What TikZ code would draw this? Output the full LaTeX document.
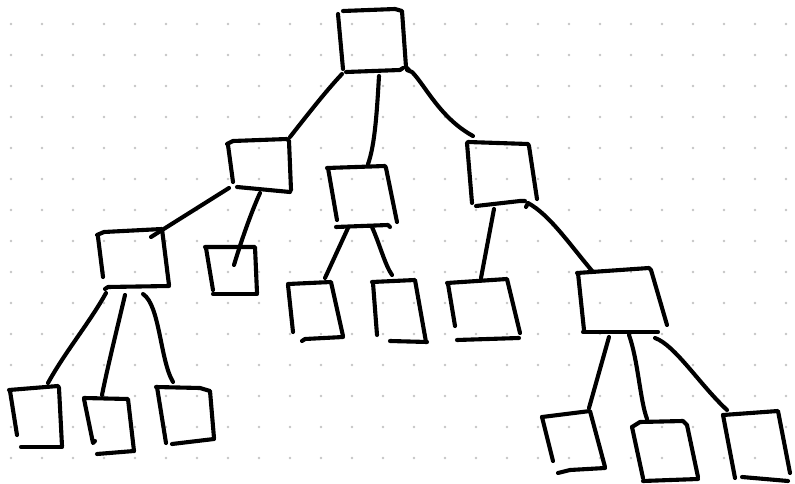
\documentclass[tikz,border=0pt]{standalone}
\usepackage{tikz}
\definecolor{dotgray}{HTML}{C4C4C4}
\tikzset{
  pen/.style={line width=4.1pt, line cap=round, line join=round, black},
  griddot/.style={fill=dotgray}
}
\begin{document}
\begin{tikzpicture}[x=1pt, y=-1pt]
\useasboundingbox (0,0) rectangle (795,484);
\foreach \i in {0,...,25}
  \foreach \j in {0,...,14}
    \fill[griddot] (11+31*\i, 24+31*\j) circle (1.4pt);
% boxes
\draw[pen] (338,14) -- (343,69);
\draw[pen] (343,11) -- (395,9) -- (402,11) -- (406,67) -- (409,70);
\draw[pen] (346,72) -- (400,70) -- (403,68);
\draw[pen] (228,145) -- (233,182);
\draw[pen] (227,144) -- (233,141) -- (287,139) -- (289,141) -- (291,190);
\draw[pen] (237,187) -- (290,192);
\draw[pen] (328,168) -- (337,220);
\draw[pen] (327,168) -- (385,166) -- (386,168) -- (397,222);
\draw[pen] (336,227) -- (388,225) -- (390,227);
\draw[pen] (467,143) -- (472,203);
\draw[pen] (468,142) -- (528,144) -- (529,146) -- (537,199);
\draw[pen] (476,206) -- (520,201) -- (525,201);
\draw[pen] (98,237) -- (103,277);
\draw[pen] (97,235) -- (104,232) -- (162,229) -- (169,285);
\draw[pen] (105,289) -- (108,287) -- (169,286);
\draw[pen] (206,248) -- (213,290);
\draw[pen] (205,247) -- (255,247) -- (257,293);
\draw[pen] (213,294) -- (257,294);
\draw[pen] (288,285) -- (293,332);
\draw[pen] (288,284) -- (331,282) -- (343,336);
\draw[pen] (302,341) -- (305,339) -- (343,337);
\draw[pen] (373,283) -- (377,335);
\draw[pen] (372,282) -- (415,280) -- (426,342);
\draw[pen] (390,341) -- (427,342);
\draw[pen] (448,284) -- (455,326);
\draw[pen] (447,283) -- (507,279) -- (520,333);
\draw[pen] (457,340) -- (519,338);
\draw[pen] (578,273) -- (584,330);
\draw[pen] (577,273) -- (649,268) -- (651,270) -- (667,325);
\draw[pen] (583,332) -- (658,332);
\draw[pen] (10,391) -- (17,435);
\draw[pen] (9,390) -- (58,386) -- (59,388) -- (62,446);
\draw[pen] (21,447) -- (62,447);
\draw[pen] (84,399) -- (93,443) -- (95,441);
\draw[pen] (84,398) -- (128,399) -- (134,451);
\draw[pen] (97,454) -- (134,451);
\draw[pen] (157,387) -- (166,443);
\draw[pen] (156,387) -- (200,388) -- (210,391) -- (214,438);
\draw[pen] (172,444) -- (214,439);
\draw[pen] (542,417) -- (553,461);
\draw[pen] (542,417) -- (590,411) -- (605,467);
\draw[pen] (558,473) -- (570,470) -- (605,468);
\draw[pen] (632,427) -- (643,478);
\draw[pen] (632,427) -- (640,422) -- (683,421) -- (687,425) -- (698,477);
\draw[pen] (643,481) -- (698,479);
\draw[pen] (723,415) -- (735,478);
\draw[pen] (723,415) -- (778,411) -- (790,473);
\draw[pen] (742,477) -- (788,481);
% connector ends
\coordinate (top-o1) at (342,74);
\coordinate (top-o2) at (379,76);
\coordinate (top-o3) at (407,70);
\coordinate (l-i) at (290,137);
\coordinate (m-i) at (368,164);
\coordinate (r-i) at (473,136);
\coordinate (l-o1) at (229,188);
\coordinate (l-o2) at (260,193);
\coordinate (m-o1) at (348,228);
\coordinate (m-o2) at (372,227);
\coordinate (r-o1) at (494,209);
\coordinate (r-o2) at (526,207);
\coordinate (ll-i) at (151,237);
\coordinate (lr-i) at (234,265);
\coordinate (ml-i) at (325,278);
\coordinate (mr-i) at (392,275);
\coordinate (rl-i) at (481,278);
\coordinate (rr-i) at (593,272);
\coordinate (ll-o1) at (106,293);
\coordinate (ll-o2) at (125,295);
\coordinate (ll-o3) at (143,294);
\coordinate (rr-o1) at (609,337);
\coordinate (rr-o2) at (629,335);
\coordinate (rr-o3) at (655,338);
\coordinate (lla-i) at (48,383);
\coordinate (llb-i) at (102,395);
\coordinate (llc-i) at (173,382);
\coordinate (rra-i) at (589,408);
\coordinate (rrb-i) at (647,419);
\coordinate (rrc-i) at (727,410);
% connectors
\draw[pen] (top-o1) .. controls (325,92) and (305,118) .. (l-i);
\draw[pen] (top-o2) .. controls (377,110) and (375,145) .. (m-i);
\draw[pen] (top-o3) -- (412,72) .. controls (425,85) and (440,118) .. (r-i);
\draw[pen] (l-o1) -- (ll-i);
\draw[pen] (l-o2) .. controls (250,215) and (240,245) .. (lr-i);
\draw[pen] (m-o1) -- (ml-i);
\draw[pen] (m-o2) .. controls (380,245) and (385,265) .. (mr-i);
\draw[pen] (r-o1) -- (rl-i);
\draw[pen] (r-o2) -- (528,203) .. controls (550,215) and (570,245) .. (rr-i);
\draw[pen] (ll-o1) .. controls (90,322) and (65,352) .. (lla-i);
\draw[pen] (ll-o2) .. controls (118,325) and (108,365) .. (llb-i);
\draw[pen] (ll-o3) .. controls (160,305) and (160,360) .. (llc-i);
\draw[pen] (rr-o1) -- (rra-i);
\draw[pen] (rr-o2) .. controls (638,360) and (640,400) .. (rrb-i);
\draw[pen] (rr-o3) .. controls (675,345) and (700,385) .. (rrc-i);
\end{tikzpicture}
\end{document}
